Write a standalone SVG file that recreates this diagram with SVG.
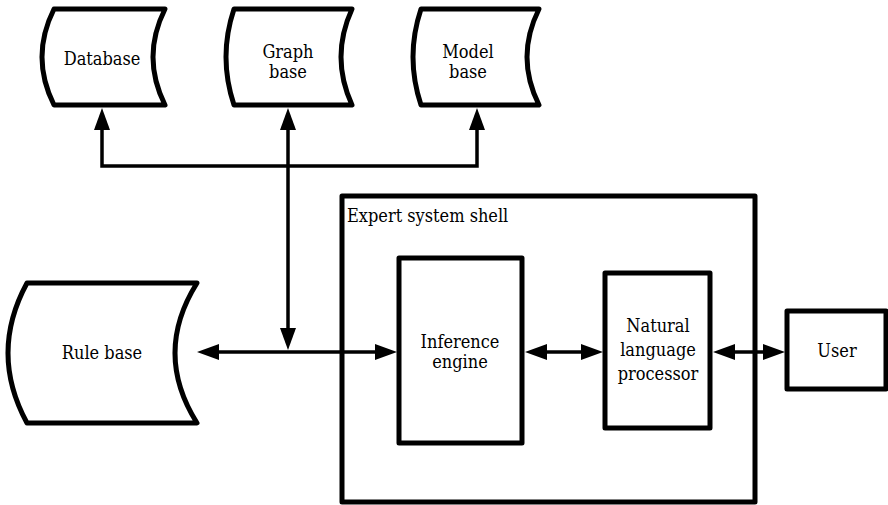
<svg xmlns="http://www.w3.org/2000/svg" width="888" height="505" viewBox="0 0 888 505">
<defs>
<style>
.shape{fill:#fff;stroke:#000;stroke-width:5;stroke-linejoin:round}
.conn{fill:none;stroke:#000;stroke-width:3.5}
text{font-family:"DejaVu Serif Condensed","DejaVu Serif",serif;font-stretch:condensed;font-size:18px;fill:#000}
.c{text-anchor:middle}
</style>
<marker id="ah" viewBox="0 0 22 16" refX="12" refY="8" markerWidth="22" markerHeight="16" markerUnits="userSpaceOnUse" orient="auto-start-reverse">
<path d="M0,0 L22,8 L0,16 Z" fill="#000"/>
</marker>
</defs>
<rect width="888" height="505" fill="#fff"/>

<g id="shell">
<rect class="shape" x="342" y="196" width="413" height="306"/>
<text x="347" y="222">Expert system shell</text>
</g>

<g id="database">
<path class="shape" d="M54,9 L165,9 Q141,57 165,105 L54,105 Q30,57 54,9 Z"/>
<text class="c" x="102" y="65">Database</text>
</g>

<g id="graphbase">
<path class="shape" d="M234,9 L352,9 Q330,57 352,105 L234,105 Q218,57 234,9 Z"/>
<text class="c" x="288" y="58">Graph</text>
<text class="c" x="288" y="78">base</text>
</g>

<g id="modelbase">
<path class="shape" d="M421,9 L539,9 Q515,57 539,105 L421,105 Q405,57 421,9 Z"/>
<text class="c" x="468" y="58">Model</text>
<text class="c" x="468" y="78">base</text>
</g>

<g id="rulebase">
<path class="shape" d="M27,283 L197,283 Q153,353 197,423 L27,423 Q-11,353 27,283 Z"/>
<text class="c" x="102" y="359">Rule base</text>
</g>

<g id="inference">
<rect class="shape" x="399" y="258" width="123" height="185"/>
<text class="c" x="460" y="348">Inference</text>
<text class="c" x="460" y="368">engine</text>
</g>

<g id="nlp">
<rect class="shape" x="605" y="273" width="105" height="155"/>
<text class="c" x="658" y="332">Natural</text>
<text class="c" x="658" y="356">language</text>
<text class="c" x="658" y="380">processor</text>
</g>

<g id="user">
<rect class="shape" x="787" y="311" width="99" height="78"/>
<text class="c" x="837" y="357">User</text>
</g>

<g id="connectors">
<path class="conn" d="M102,118 L102,166 L477,166 L477,118" marker-start="url(#ah)" marker-end="url(#ah)"/>
<path class="conn" d="M288,118 L288,340" marker-start="url(#ah)" marker-end="url(#ah)"/>
<path class="conn" d="M207,352 L387,352" marker-start="url(#ah)" marker-end="url(#ah)"/>
<path class="conn" d="M535,352 L593,352" marker-start="url(#ah)" marker-end="url(#ah)"/>
<path class="conn" d="M723,352 L775,352" marker-start="url(#ah)" marker-end="url(#ah)"/>
</g>
</svg>
